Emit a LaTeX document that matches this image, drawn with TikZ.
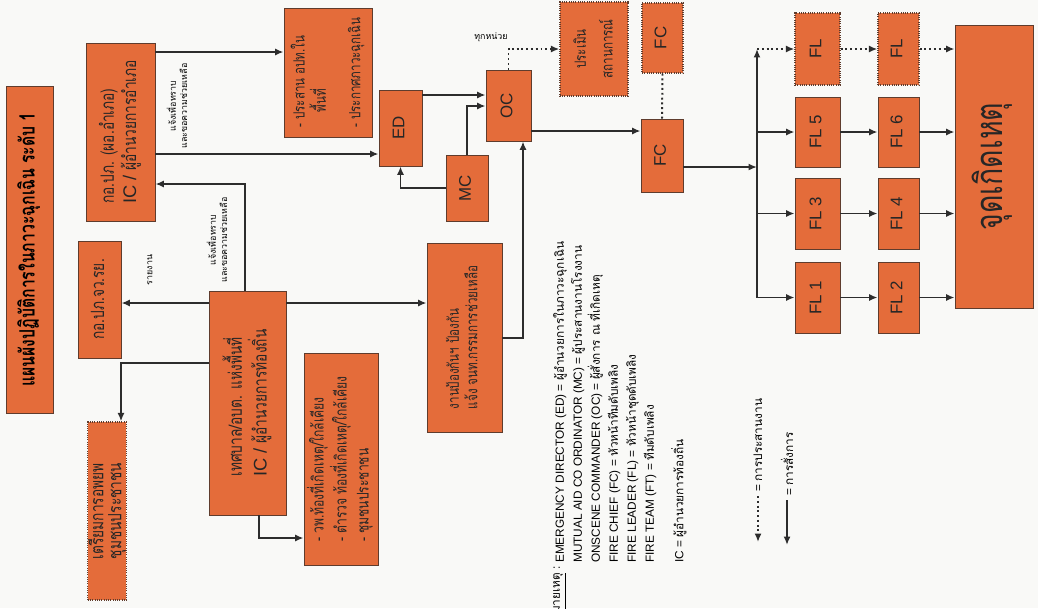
\documentclass[tikz,border=0pt]{standalone}
\usepackage{fontspec}
\setmainfont{Liberation Sans}
\newfontfamily\thai[Script=Thai]{Loma}
\newfontfamily\thaicond[Script=Thai, FakeStretch=0.75]{Loma}
\usetikzlibrary{arrows.meta, calc}

\definecolor{boxfill}{RGB}{228,108,58}
\definecolor{boxedge}{RGB}{95,60,45}
\definecolor{linkgray}{RGB}{45,45,45}
\definecolor{paper}{RGB}{249,249,247}

% text turned to read upwards, lines stacked from left to right
\newcommand{\vt}[2][l]{\rotatebox{90}{\begin{tabular}{@{}#1@{}}#2\end{tabular}}}

\begin{document}
\begin{tikzpicture}[
    x=0.025cm, y=-0.025cm,
    >={Latex[length=6pt,width=5pt]},
    box/.style={rectangle, draw=boxedge, line width=0.6pt, fill=boxfill, inner sep=0pt, text=black!85},
    dotbox/.style={box, densely dotted, line width=0.9pt},
    boxwh/.style 2 args={minimum width=#1cm, minimum height=#2cm},
    boxtext/.style={font=\thaicond\fontsize{13}{16}\selectfont},
    role/.style={font=\fontsize{12}{14}\selectfont},
    note/.style={font=\thai\fontsize{6.3}{8}\selectfont, rotate=90, align=center, inner sep=1pt},
    key/.style={font=\fontsize{8.4}{12.8}\selectfont, rotate=90, align=left, inner sep=0pt},
    link/.style={->, draw=linkgray, line width=1.4pt},
    cord/.style={link, dotted}
]
\fill[paper] (0,0) rectangle (1038,608);
\useasboundingbox (0,0) rectangle (1038,608);

% TITLE
\node[box, boxwh={1.175}{8.175}, font=\thaicond\bfseries\fontsize{15}{18}\selectfont, text=black] (Title) at (29.5,249.5)
    {\vt[c]{แผนผังปฏิบัติการในภาวะฉุกเฉิน ระดับ 1}};

% DISTRICT AND PROVINCE
\node[box, boxtext, boxwh={1.725}{4.45}] (Amp) at (120.5,132)
    {\vt{กอ.ปภ. (ผอ.อำเภอ)\\ {\rmfamily IC /} ผู้อำนวยการอำเภอ}};
\node[box, boxtext, boxwh={1.075}{2.925}] (Prov) at (99.5,299.5) {\vt{กอ.ปภ.จว.รย.}};
\node[dotbox, boxtext, boxwh={0.95}{4.45}, font=\thaicond\fontsize{13}{11.5}\selectfont] (Evac) at (107,511)
    {\vt{เตรียมการอพยพ\\ ชุมชนประชาชน}};

% LOCAL AUTHORITY
\node[box, boxtext, boxwh={1.925}{5.6}, font=\thaicond\fontsize{13}{14}\selectfont] (Tes) at (247.5,403)
    {\vt{เทศบาล/อบต. แห่งพื้นที่\\ {\rmfamily IC /} ผู้อำนวยการท้องถิ่น}};
\node[box, boxtext, boxwh={1.85}{5.3}, font=\thaicond\fontsize{11.5}{15.5}\selectfont] (Ppl) at (341,459)
    {\vt{- วพ.ท้องที่เกิดเหตุ/ใกล้เคียง\\ - ตำรวจ ท้องที่เกิดเหตุ/ใกล้เคียง\\ - ชุมชนประชาชน}};
\node[box, boxtext, boxwh={2.2}{3.225}, font=\thaicond\fontsize{11}{12}\selectfont] (Coord) at (328,72.5)
    {\vt{- ประสาน อปท.ใน\\ \quad พื้นที่\\[12pt] - ประกาศภาวะฉุกเฉิน}};
\node[box, boxtext, boxwh={1.875}{4.725}, font=\thaicond\fontsize{11}{13}\selectfont] (Prev) at (464.5,337.5)
    {\vt{งานป้องกันฯ ป้องกัน\\ แจ้ง จนท.กรรมการช่วยเหลือ}};

% COMMAND
\node[box, role, boxwh={1.075}{1.9}] (ED) at (400.5,128) {\vt{ED}};
\node[box, role, boxwh={1.05}{1.65}] (MC) at (467,188) {\vt{MC}};
\node[box, role, boxwh={1.125}{1.775}] (OC) at (508.5,105.5) {\vt{OC}};
\node[dotbox, boxtext, boxwh={1.7}{2.35}, font=\thaicond\fontsize{11}{19}\selectfont] (Assess) at (594,49)
    {\vt[c]{ประเมิน\\ สถานการณ์}};
\node[dotbox, role, boxwh={1.025}{1.75}] (FCa) at (662.5,38) {\vt{FC}};
\node[box, role, boxwh={1.05}{1.825}] (FC) at (662,155.5) {\vt{FC}};

% FIRE LEADERS
\node[dotbox, role, boxwh={1.125}{1.8}] (FLa) at (817.5,49) {\vt{FL}};
\node[dotbox, role, boxwh={1.025}{1.8}] (FLb) at (898.5,49) {\vt{FL}};
\node[box, role, boxwh={1.125}{1.75}] (FL5) at (817.5,132) {\vt{FL 5}};
\node[box, role, boxwh={1.025}{1.75}] (FL6) at (898.5,132) {\vt{FL 6}};
\node[box, role, boxwh={1.125}{1.775}] (FL3) at (817.5,213.5) {\vt{FL 3}};
\node[box, role, boxwh={1.025}{1.775}] (FL4) at (898.5,213.5) {\vt{FL 4}};
\node[box, role, boxwh={1.125}{1.775}] (FL1) at (817.5,297.5) {\vt{FL 1}};
\node[box, role, boxwh={1.025}{1.775}] (FL2) at (898.5,297.5) {\vt{FL 2}};
\node[box, boxwh={1.95}{7.075}, font=\thaicond\fontsize{27}{30}\selectfont] (Site) at (994,166.5) {\vt{จุดเกิดเหตุ}};

% Labels on connectors
\node[note] (InfoA) at (177,106) {แจ้งเพื่อทราบ\\และขอความช่วยเหลือ};
\node[note] (InfoB) at (217,240) {แจ้งเพื่อทราบ\\และขอความช่วยเหลือ};
\node[note] (Rep) at (150,270) {รายงาน};
\node[font=\thai\fontsize{6.3}{8}\selectfont] (All) at (491,37) {ทุกหน่วย};

% Connections
\draw[link] (Amp.east |- 0,52) -- (Coord.west |- 0,52);
\draw[link] (Amp.east |- 0,154) -- (ED.west |- 0,154);
\draw[link] (Tes.north -| 245,0) |- (Amp.east |- 0,184);
\draw[link] (Tes.west |- 0,303) -- (Prov.east |- 0,303);
\draw[link] (Tes.west |- 0,363) -| (Evac.north -| 121,0);
\draw[link] (Tes.south -| 259,0) |- (Ppl.west |- 0,538);
\draw[link] (Tes.east |- 0,303) -- (Prev.west |- 0,303);
\draw[link] (Prev.east |- 0,338) -| (OC.south -| 523,0);
\draw[link] (ED.east |- 0,95) -- (OC.west |- 0,95);
\draw[link] (MC.north) |- (OC.west |- 0,106);
\draw[link] (MC.west) -| (ED.south);
\draw[cord] (OC.north) |- (Assess.west);
\draw[link] (OC.east |- 0,131) -- (FC.west |- 0,131);
\draw[link, dotted, -] (FCa.south) -- (FC.north);

% Fire leader bus
\coordinate (Bus) at (757,167);
\coordinate (BusTop) at (757,49);
\draw[link] (FC.east |- Bus) -- (Bus);
\draw[link] (Bus) -- (BusTop);
\draw[link] (Bus) |- (FL1.west);
\draw[link] (Bus |- FL3.west) -- (FL3.west);
\draw[link] (Bus |- FL5.west) -- (FL5.west);
\draw[cord] (BusTop) -- (FLa.west);
\draw[cord] (FLa.east) -- (FLb.west);
\draw[cord] (FLb.east) -- (Site.west |- FLb.east);
\draw[link] (FL5.east) -- (FL6.west);
\draw[link] (FL6.east) -- (Site.west |- FL6.east);
\draw[link] (FL3.east) -- (FL4.west);
\draw[link] (FL4.east) -- (Site.west |- FL4.east);
\draw[link] (FL1.east) -- (FL2.west);
\draw[link] (FL2.east) -- (Site.west |- FL2.east);

% Legend
\node[key, anchor=north east] (NoteHead) at (553,563) {{\thai\underline{หมายเหตุ}} :\ };
\node[key, anchor=north west] (Legend) at (553,563) {%
    EMERGENCY DIRECTOR (ED) = {\thai ผู้อำนวยการในภาวะฉุกเฉิน}\\
    MUTUAL AID CO ORDINATOR (MC) = {\thai ผู้ประสานงานโรงงาน}\\
    ONSCENE COMMANDER (OC) = {\thai ผู้สั่งการ ณ ที่เกิดเหตุ}\\
    FIRE CHIEF (FC) = {\thai หัวหน้าทีมดับเพลิง}\\
    FIRE LEADER (FL) = {\thai หัวหน้าชุดดับเพลิง}\\
    FIRE TEAM (FT) = {\thai ทีมดับเพลิง}};
\node[key, anchor=north west] (LegendIC) at (671,563) {IC = {\thai ผู้อำนวยการท้องถิ่น}};
\node[key, anchor=west] (KeyDot) at (758,492) {= {\thai การประสานงาน}};
\node[key, anchor=west] (KeyCmd) at (787,496) {= {\thai การสั่งการ}};
\coordinate (KeyDotEnd) at (758,542);
\coordinate (KeyCmdEnd) at (787,545);
\draw[cord] (KeyDot.west) ++(0,4) -- (KeyDotEnd);
\draw[link] (KeyCmd.west) ++(0,4) -- (KeyCmdEnd);

\end{tikzpicture}
\end{document}
